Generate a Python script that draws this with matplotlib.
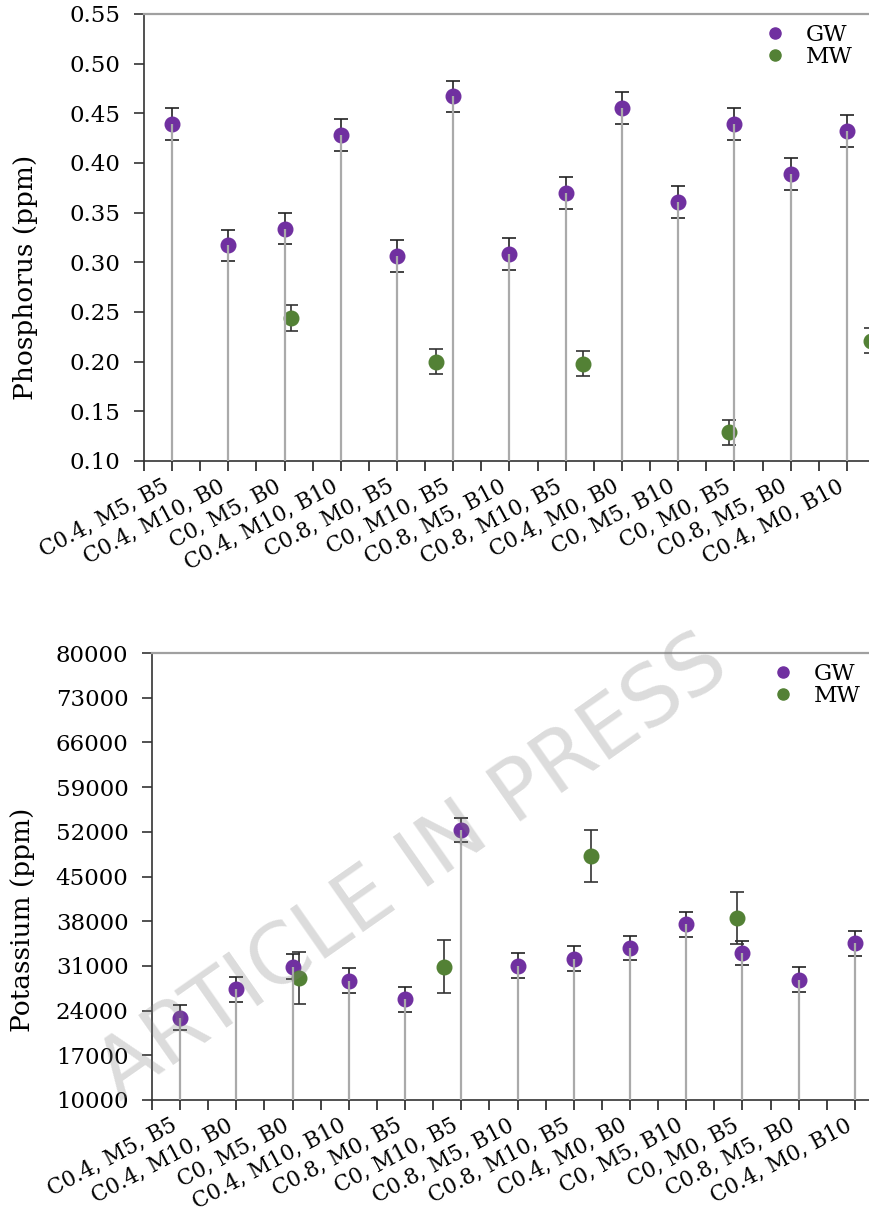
import matplotlib.pyplot as plt
import numpy as np

plt.rcParams['font.family'] = 'DejaVu Serif'

treatments = ["C0.4, M5, B5", "C0.4, M10, B0", "C0, M5, B0", "C0.4, M10, B10",
              "C0.8, M0, B5", "C0, M10, B5", "C0.8, M5, B10", "C0.8, M10, B5",
              "C0.4, M0, B0", "C0, M5, B10", "C0, M0, B5", "C0.8, M5, B0",
              "C0.4, M0, B10"]

# phosphorus, GW samples (one per treatment)
p_gw = [0.439, 0.317, 0.334, 0.428, 0.306, 0.467, 0.308, 0.370, 0.455, 0.361, 0.439, 0.389, 0.432]
p_gw_err = [0.016, 0.016, 0.016, 0.016, 0.016, 0.016, 0.016, 0.016, 0.016, 0.016, 0.016, 0.016, 0.016]
# phosphorus, MW samples (only some treatments)
p_mw_cat = ["C0, M5, B0", "C0, M10, B5", "C0.8, M10, B5", "C0, M0, B5", "C0.4, M0, B10"]
p_mw = [0.244, 0.200, 0.198, 0.129, 0.221]
p_mw_err = [0.0127, 0.0127, 0.0127, 0.0127, 0.0127]

# potassium, GW samples
k_gw = [22900, 27330, 30880, 28690, 25770, 52280, 31030, 32130, 33800, 37510, 33020, 28850, 34540]
k_gw_err = [1930, 1930, 1930, 1930, 1930, 1860, 1930, 1930, 1930, 1930, 1930, 1930, 1930]
# potassium, MW samples
k_mw_cat = ["C0, M5, B0", "C0, M10, B5", "C0.8, M10, B5", "C0, M0, B5"]
k_mw = [29100, 30880, 48210, 38560]
k_mw_err = [4070, 4100, 4070, 4070]

# horizontal jitter of MW points around their category
mw_jitter = {"C0, M5, B0": 0.11, "C0, M10, B5": -0.30, "C0.8, M10, B5": 0.30,
             "C0, M0, B5": -0.10, "C0.4, M0, B10": 0.42}

GW_COLOR = '#7030a0'
MW_COLOR = '#538135'
STEM = '#aaaaaa'


def draw_panel(ax, gw, gw_err, mw_cat, mw, mw_err, ylo, yhi, step, ylabel,
               label_size, label_xy, leg_anchor):
    x = np.arange(len(treatments))
    ax.errorbar(x, gw, yerr=gw_err, fmt='o', ms=10.5, color=GW_COLOR,
                ecolor='#222222', elinewidth=1.2, capsize=4.7, capthick=1.2,
                zorder=3, label='GW')
    xm = np.array([treatments.index(c) + mw_jitter[c] for c in mw_cat])
    ax.errorbar(xm, mw, yerr=mw_err, fmt='o', ms=10.5, color=MW_COLOR,
                ecolor='#333333', elinewidth=1.2, capsize=4.7, capthick=1.2,
                zorder=3, label='MW')
    # stems from the floor of the axis up to each GW value
    ax.vlines(x, ylo, gw, color=STEM, lw=1.6, zorder=4)

    ax.set_xlim(-0.5, len(treatments) - 0.5)
    ax.set_ylim(ylo, yhi)
    ax.set_yticks(np.arange(ylo, yhi + step / 2, step))
    ax.set_xticks(x)
    ax.set_xticks(np.r_[x - 0.5, x[-1] + 0.5], minor=True)
    ax.set_xticklabels(treatments, rotation=28, ha='right', fontsize=15.5)
    ax.tick_params(axis='y', labelsize=16.5, length=7, width=1.2, pad=10, color='#333333')
    ax.tick_params(axis='x', which='both', length=7, width=1.2, pad=3, color='#222222')
    ax.set_ylabel(ylabel, fontsize=label_size)
    ax.yaxis.set_label_coords(*label_xy)

    ax.spines['right'].set_visible(False)
    ax.spines['top'].set_color('#a0a0a0')
    ax.spines['top'].set_linewidth(1.6)
    for s in ('left', 'bottom'):
        ax.spines[s].set_color('#333333')
        ax.spines[s].set_linewidth(1.2)

    handles, labels = ax.get_legend_handles_labels()
    leg_handles = [plt.Line2D([], [], ls='none', marker='o', ms=8, color=c)
                   for c in (GW_COLOR, MW_COLOR)]
    ax.legend(leg_handles, labels, loc='upper right', bbox_to_anchor=leg_anchor,
              bbox_transform=ax.figure.transFigure, frameon=False, fontsize=16.5,
              handletextpad=0.6, labelspacing=0.0, handlelength=1.5)


fig = plt.figure(figsize=(8.7, 12.07), dpi=100)
ax1 = fig.add_axes([144 / 870, 1 - 461 / 1207, 731 / 870, 447 / 1207])
ax2 = fig.add_axes([152 / 870, 1 - 1100 / 1207, 731 / 870, 447 / 1207])

draw_panel(ax1, p_gw, p_gw_err, p_mw_cat, p_mw, p_mw_err, 0.10, 0.55, 0.05,
           'Phosphorus (ppm)', 19, (-0.145, 0.41), (873 / 870, 1 - 3 / 1207))
ax1.set_yticklabels([f'{v:.2f}' for v in np.arange(0.10, 0.5501, 0.05)])
draw_panel(ax2, k_gw, k_gw_err, k_mw_cat, k_mw, k_mw_err, 10000, 80000, 7000,
           'Potassium (ppm)', 19, (-0.160, 0.403), (881 / 870, 1 - 642 / 1207))

fig.text(0.475, 0.28, 'ARTICLE IN PRESS', family='DejaVu Sans', fontsize=60,
         color='#808080', alpha=0.28, rotation=35, ha='center', va='center',
         zorder=10)

fig.savefig('out.png', dpi=100)
